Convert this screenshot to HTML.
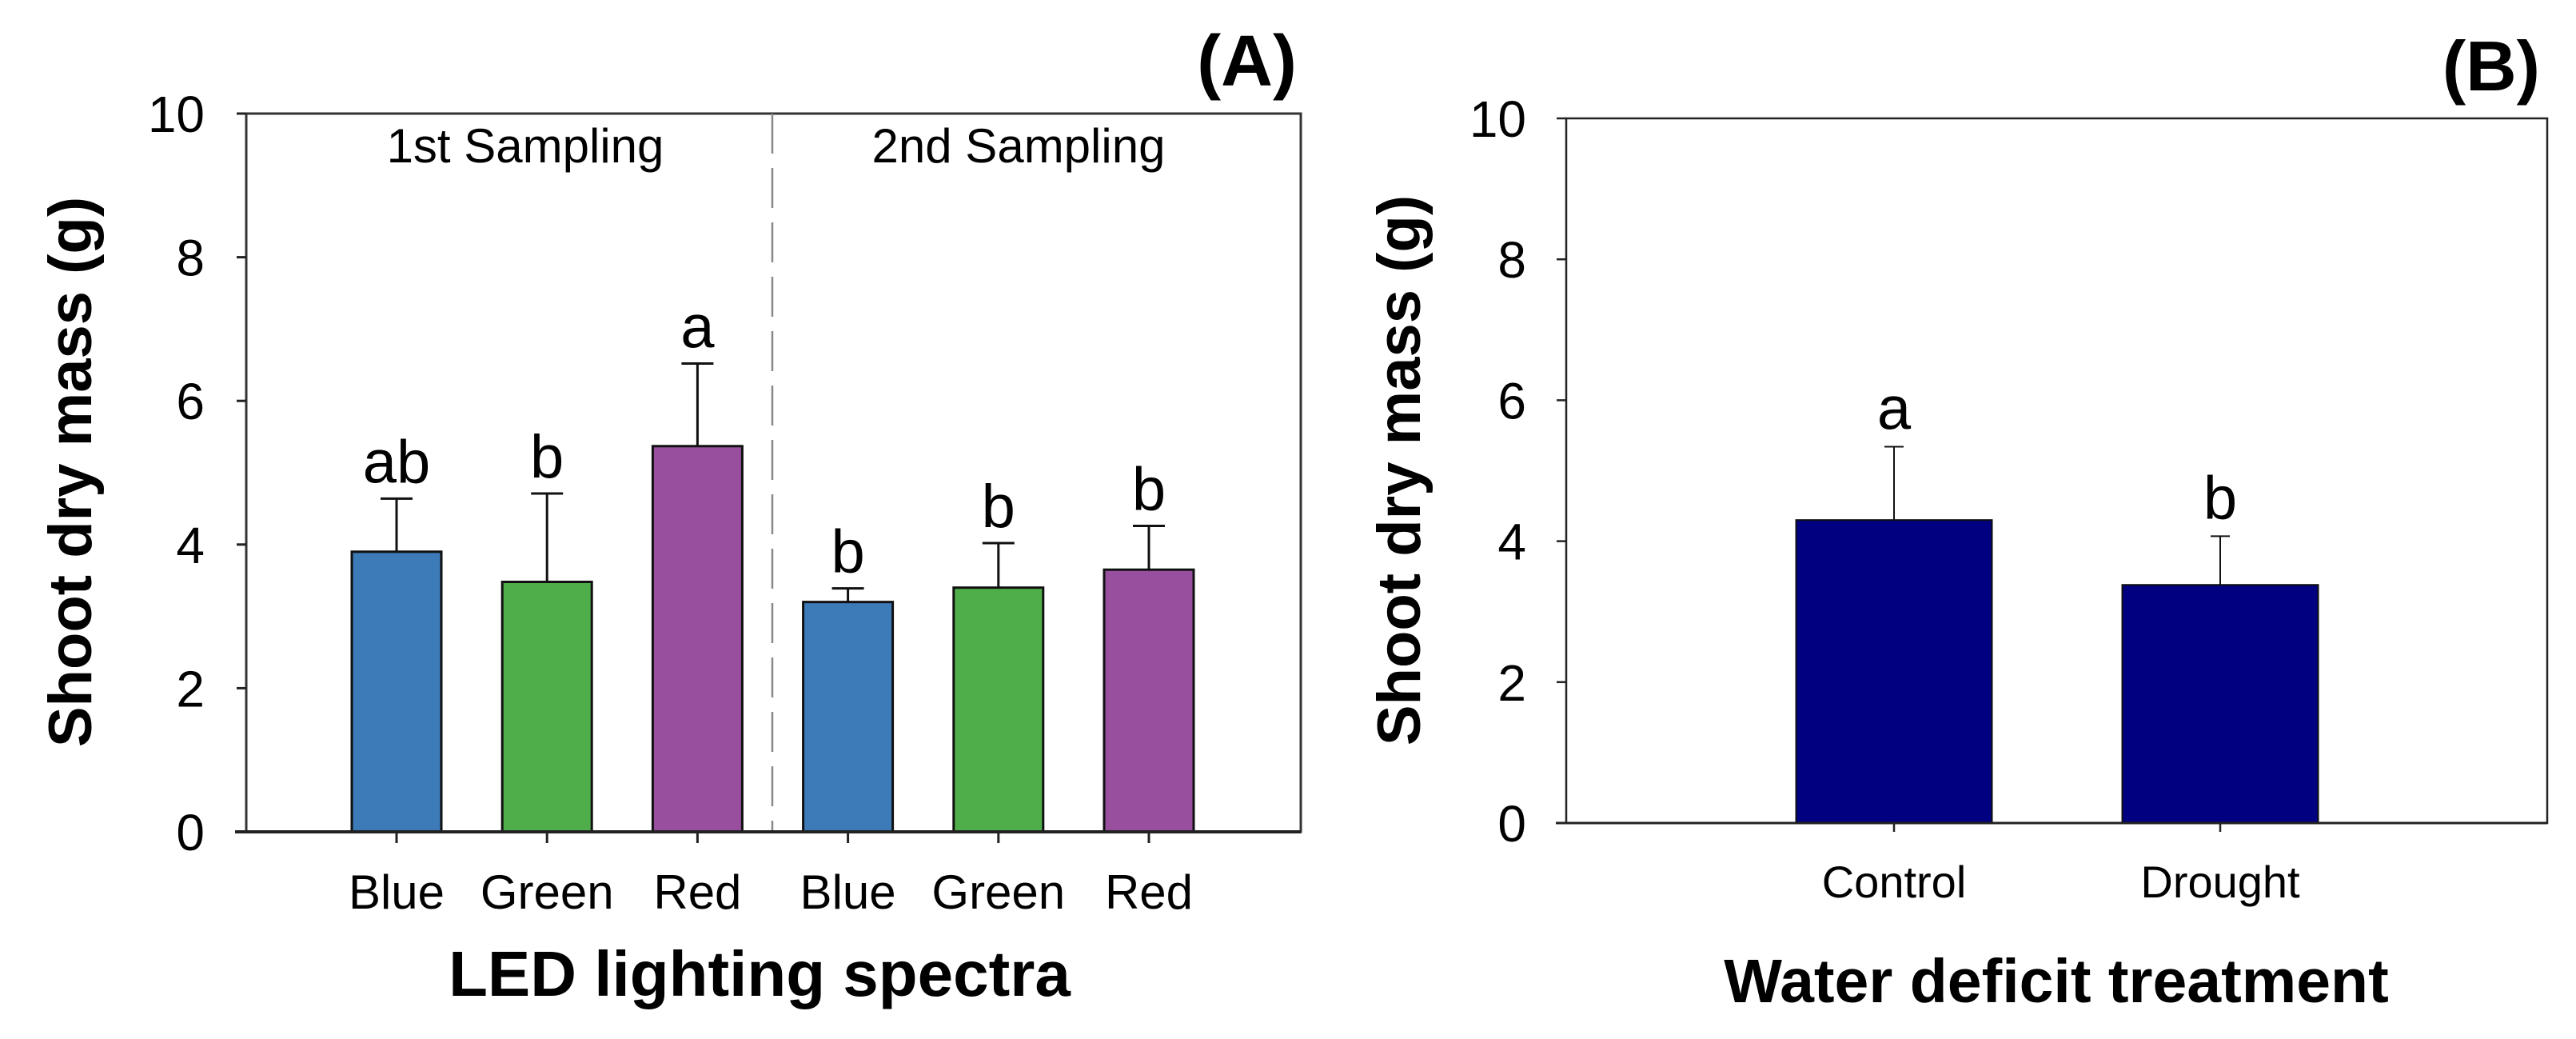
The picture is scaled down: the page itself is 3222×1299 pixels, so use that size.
<!DOCTYPE html>
<html><head><meta charset="utf-8"><style>
html,body{margin:0;padding:0;background:#fff;}
svg{display:block;}
text{font-family:"Liberation Sans",Arial,sans-serif;fill:#000;}
</style></head><body>
<svg id="fig" width="3222" height="1299" viewBox="0 0 3222 1299" xmlns="http://www.w3.org/2000/svg">
<g id="pa"></g>
<g id="pb"></g>
</svg>
<script>
// Panel A data
const catsA = ["Blue","Green","Red","Blue","Green","Red"];
const valsA = [3.90, 3.48, 5.37, 3.20, 3.40, 3.65];
const errA = [4.64, 4.71, 6.52, 3.39, 4.02, 4.26];
const lettersA = ["ab","b","a","b","b","b"];
const colorKeysA = ["blue","green","purple","blue","green","purple"];
// Panel B data
const catsB = ["Control","Drought"];
const valsB = [4.30, 3.38];
const errB = [5.34, 4.07];
const lettersB = ["a","b"];
const ticks = [0,2,4,6,8,10];

const NS="http://www.w3.org/2000/svg";
const palette={blue:"#3c7ab8",green:"#50ae4a",purple:"#984f9e",navy:"#000080"};
function mk(parent,tag,attrs,txt){const e=document.createElementNS(NS,tag);for(const k in attrs)e.setAttribute(k,attrs[k]);if(txt!==undefined)e.textContent=txt;parent.appendChild(e);return e;}

// ---- Panel A ----
const pa=document.getElementById('pa');
const A={x0:308,x1:1627,top:142,zero:1040};
const yA=v=>A.zero-(A.zero-A.top)*v/10;
const xA=i=>496+i*188.2;
let e;
e=mk(pa,'rect',{x:A.x0,y:A.top,width:A.x1-A.x0,height:A.zero-A.top,fill:'none',stroke:'#333','stroke-width':3});

e=mk(pa,'line',{x1:966,y1:A.top,x2:966,y2:A.zero,stroke:'#888','stroke-width':2.5,'stroke-dasharray':'50 18'});

ticks.forEach(t=>{
  const l=mk(pa,'line',{x1:296,y1:yA(t),x2:A.x0,y2:yA(t),stroke:'#222','stroke-width':3});
  
  const tx=mk(pa,'text',{x:256,y:yA(t)+23,'text-anchor':'end','font-size':64},String(t));
  
});
catsA.forEach((c,i)=>{
  const cx=xA(i),w=112;
  const et=mk(pa,'line',{x1:cx,y1:yA(errA[i]),x2:cx,y2:yA(valsA[i]),stroke:'#111','stroke-width':3});
  
  const ec=mk(pa,'line',{x1:cx-20,y1:yA(errA[i]),x2:cx+20,y2:yA(errA[i]),stroke:'#111','stroke-width':3});
  
  const r=mk(pa,'rect',{x:cx-w/2,y:yA(valsA[i]),width:w,height:A.zero-yA(valsA[i]),fill:palette[colorKeysA[i]],stroke:'#111','stroke-width':3});
  
  const lt=mk(pa,'text',{x:cx,y:yA(errA[i])-20,'text-anchor':'middle','font-size':76},lettersA[i]);
  
  const xt=mk(pa,'line',{x1:cx,y1:A.zero,x2:cx,y2:A.zero+14,stroke:'#222','stroke-width':3});
  
  const xl=mk(pa,'text',{x:cx,y:1136,'text-anchor':'middle','font-size':60},c);
  
});
e=mk(pa,'line',{x1:294,y1:A.zero,x2:A.x1,y2:A.zero,stroke:'#222','stroke-width':4});

e=mk(pa,'text',{x:657,y:203,'text-anchor':'middle','font-size':60},'1st Sampling');

e=mk(pa,'text',{x:1274,y:203,'text-anchor':'middle','font-size':60},'2nd Sampling');

e=mk(pa,'text',{x:950,y:1245,'text-anchor':'middle','font-size':80,'font-weight':'bold'},'LED lighting spectra');

e=mk(pa,'text',{x:0,y:0,'text-anchor':'middle','font-size':76,'font-weight':'bold',transform:'translate(114,590) rotate(-90)'},'Shoot dry mass (g)');

e=mk(pa,'text',{x:1622,y:107,'text-anchor':'end','font-size':90,'font-weight':'bold'},'(A)');


// ---- Panel B ----
const pb=document.getElementById('pb');
const B={x0:1959,x1:3186,top:148,zero:1029};
const yB=v=>B.zero-(B.zero-B.top)*v/10;
const xB=i=>2369+i*408;
e=mk(pb,'rect',{x:B.x0,y:B.top,width:B.x1-B.x0,height:B.zero-B.top,fill:'none',stroke:'#222','stroke-width':2.5});

ticks.forEach(t=>{
  const l=mk(pb,'line',{x1:1947,y1:yB(t),x2:B.x0,y2:yB(t),stroke:'#222','stroke-width':2.5});
  
  const tx=mk(pb,'text',{x:1909,y:yB(t)+23,'text-anchor':'end','font-size':64},String(t));
  
});
catsB.forEach((c,i)=>{
  const cx=xB(i),w=245;
  const et=mk(pb,'line',{x1:cx,y1:yB(errB[i]),x2:cx,y2:yB(valsB[i]),stroke:'#111','stroke-width':2});
  
  const ec=mk(pb,'line',{x1:cx-12,y1:yB(errB[i]),x2:cx+12,y2:yB(errB[i]),stroke:'#111','stroke-width':2});
  
  const r=mk(pb,'rect',{x:cx-w/2,y:yB(valsB[i]),width:w,height:B.zero-yB(valsB[i]),fill:palette.navy,stroke:'#111','stroke-width':2});
  
  const lt=mk(pb,'text',{x:cx,y:yB(errB[i])-22,'text-anchor':'middle','font-size':76},lettersB[i]);
  
  const xt=mk(pb,'line',{x1:cx,y1:B.zero,x2:cx,y2:B.zero+11,stroke:'#222','stroke-width':2.5});
  
  const xl=mk(pb,'text',{x:cx,y:1122,'text-anchor':'middle','font-size':56},c);
  
});
e=mk(pb,'line',{x1:1946,y1:B.zero,x2:B.x1,y2:B.zero,stroke:'#222','stroke-width':3});

e=mk(pb,'text',{x:2572,y:1253,'text-anchor':'middle','font-size':77,'font-weight':'bold'},'Water deficit treatment');

e=mk(pb,'text',{x:0,y:0,'text-anchor':'middle','font-size':76,'font-weight':'bold',transform:'translate(1776,588) rotate(-90)'},'Shoot dry mass (g)');

e=mk(pb,'text',{x:3177,y:113,'text-anchor':'end','font-size':88,'font-weight':'bold'},'(B)');

</script>
</body></html>
